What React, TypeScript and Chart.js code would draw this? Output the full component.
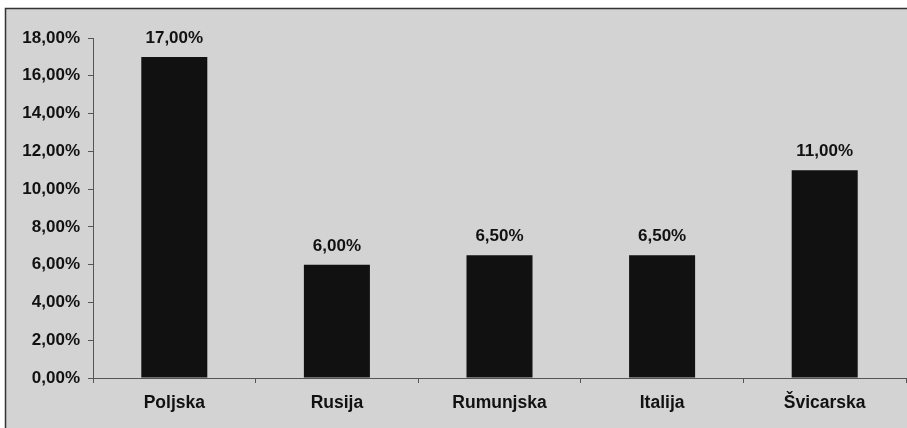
import React, { useEffect, useRef } from "react";
import { Chart, registerables } from "chart.js";

Chart.register(...registerables);

const categories = ["Poljska", "Rusija", "Rumunjska", "Italija", "Švicarska"];
const values = [17, 6, 6.5, 6.5, 11];
const yTicks = { min: 0, max: 18, step: 2 };

const fmt = (v: number) => v.toFixed(2).replace(".", ",") + "%";

const FONT = "'Liberation Sans', Arial, sans-serif";

const framePlugin = {
  id: "frame",
  beforeDraw(chart: any) {
    const { ctx, width, height } = chart;
    ctx.save();
    ctx.fillStyle = "#ffffff";
    ctx.fillRect(0, 0, width, height);
    ctx.fillStyle = "#d3d3d3";
    ctx.fillRect(5, 8, width - 5, height - 8);
    ctx.strokeStyle = "#333333";
    ctx.lineWidth = 1.5;
    ctx.beginPath();
    ctx.moveTo(5.5, height);
    ctx.lineTo(5.5, 8.5);
    ctx.lineTo(width, 8.5);
    ctx.stroke();
    ctx.restore();
  },
};

const labelPlugin = {
  id: "barLabels",
  afterDatasetsDraw(chart: any) {
    const { ctx } = chart;
    const meta = chart.getDatasetMeta(0);
    ctx.save();
    ctx.fillStyle = "#111111";
    ctx.font = `bold 17px ${FONT}`;
    ctx.textAlign = "center";
    ctx.textBaseline = "alphabetic";
    meta.data.forEach((bar: any, i: number) => {
      ctx.fillText(fmt(values[i]), bar.x, bar.y - 14);
    });
    ctx.restore();
  },
};

export default function App() {
  const ref = useRef<HTMLCanvasElement>(null);
  useEffect(() => {
    if (!ref.current) return;
    const chart = new Chart(ref.current, {
      type: "bar",
      data: {
        labels: categories,
        datasets: [
          {
            data: values,
            backgroundColor: "#111111",
            borderWidth: 0,
            categoryPercentage: 1,
            barPercentage: 0.406,
          },
        ],
      },
      options: {
        animation: false,
        responsive: false,
        maintainAspectRatio: false,
        layout: { padding: { top: 38, right: 1, bottom: 0, left: 0 } },
        plugins: {
          legend: { display: false },
          tooltip: { enabled: false },
        },
        scales: {
          x: {
            afterFit: (s: any) => {
              s.height = 50;
            },
            grid: {
              offset: true,
              drawOnChartArea: false,
              drawTicks: true,
              tickLength: 5,
              color: "#555555",
            },
            border: { display: true, color: "#555555", width: 1 },
            ticks: {
              color: "#111111",
              font: { family: FONT, size: 17.5, weight: "bold" },
              padding: 10,
              maxRotation: 0,
            },
          },
          y: {
            min: yTicks.min,
            max: yTicks.max,
            afterFit: (s: any) => {
              s.width = 93;
            },
            grid: {
              drawOnChartArea: false,
              drawTicks: true,
              tickLength: 5,
              color: "#555555",
            },
            border: { display: true, color: "#555555", width: 1 },
            ticks: {
              stepSize: yTicks.step,
              color: "#111111",
              font: { family: FONT, size: 17, weight: "bold" },
              padding: 8,
              callback: (v: any) => fmt(Number(v)),
            },
          },
        },
      },
      plugins: [framePlugin, labelPlugin],
    });
    return () => chart.destroy();
  }, []);
  return (
    <div style={{ position: "absolute", left: 0, top: 0, width: 907, height: 428 }}>
      <canvas ref={ref} width={907} height={428} style={{ width: 907, height: 428 }} />
    </div>
  );
}
